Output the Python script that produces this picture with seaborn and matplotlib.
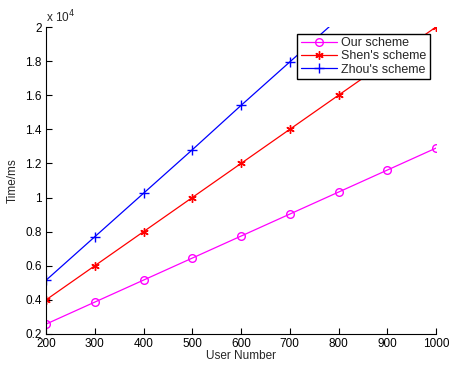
import matplotlib
matplotlib.use("Agg")
import matplotlib.pyplot as plt
import seaborn as sns
import pandas as pd
import numpy as np

users = [200, 300, 400, 500, 600, 700, 800, 900, 1000]
our_scheme = [2580, 3870, 5160, 6450, 7740, 9030, 10320, 11610, 12900]
shen_scheme = [4000, 6000, 8000, 10000, 12000, 14000, 16000, 18000, 20000]
zhou_scheme = [5150, 7700, 10250, 12800, 15400, 17950, 20500, 23050, 25600]
series_names = ["Our scheme", "Shen's scheme", "Zhou's scheme"]
xticks = [200, 300, 400, 500, 600, 700, 800, 900, 1000]
yticks = [0.2, 0.4, 0.6, 0.8, 1.0, 1.2, 1.4, 1.6, 1.8, 2.0]
ytick_labels = ["0.2", "0.4", "0.6", "0.8", "1", "1.2", "1.4", "1.6", "1.8", "2"]

sns.set_theme(style="ticks")
plt.rcParams['font.family'] = ['Liberation Sans', 'DejaVu Sans']

rows = []
for name, vals in zip(series_names, [our_scheme, shen_scheme, zhou_scheme]):
    for u, v in zip(users, vals):
        rows.append({"User Number": u, "Time": v / 1e4, "Scheme": name})
df = pd.DataFrame(rows)

fig = plt.figure(figsize=(4.49, 3.70), dpi=100)
ax = fig.add_axes([46/449, 1 - 334/370, (436-46)/449, (334-27)/370])

palette = {"Our scheme": "#ff00ff", "Shen's scheme": "#ff0000", "Zhou's scheme": "#0000ff"}
markers = {"Our scheme": "o", "Shen's scheme": (6, 2, 0), "Zhou's scheme": "+"}
msizes = {"Our scheme": 5.5, "Shen's scheme": 6, "Zhou's scheme": 6.5}
for name in series_names:
    sub = df[df["Scheme"] == name]
    sns.lineplot(data=sub, x="User Number", y="Time", ax=ax, color=palette[name],
                 marker=markers[name], markersize=msizes[name],
                 markerfacecolor="none" if name == "Our scheme" else palette[name],
                 markeredgecolor=palette[name], markeredgewidth=1.0,
                 linewidth=0.9, label=name)

ax.set_xlim(200, 1000)
ax.set_ylim(0.2, 2.0)
ax.set_xticks(xticks)
ax.set_xticklabels([str(t) for t in xticks])
ax.set_yticks(yticks)
ax.set_yticklabels(ytick_labels)
ax.tick_params(direction="in", length=4, width=0.8, labelsize=8.5, colors="black", pad=3)
for s in ["top", "right"]:
    ax.spines[s].set_visible(False)
for s in ["left", "bottom"]:
    ax.spines[s].set_color("black")
    ax.spines[s].set_linewidth(0.8)

ax.set_xlabel("User Number", fontsize=8.5, labelpad=0)
ax.set_ylabel("Time/ms", fontsize=8.5, labelpad=5)
ax.text(0.0, 1.005, r"x 10$^{4}$", transform=ax.transAxes, fontsize=8.5, ha="left", va="bottom")

leg = ax.legend(loc="upper right", bbox_to_anchor=(0.99, 0.985), fontsize=9, frameon=True,
                fancybox=False, edgecolor="black", framealpha=1, borderpad=0.25, labelspacing=0.1,
                handlelength=2.9, handletextpad=0.35, borderaxespad=0.2)
leg.get_frame().set_linewidth(1.0)

fig.savefig("out.png", dpi=100)
